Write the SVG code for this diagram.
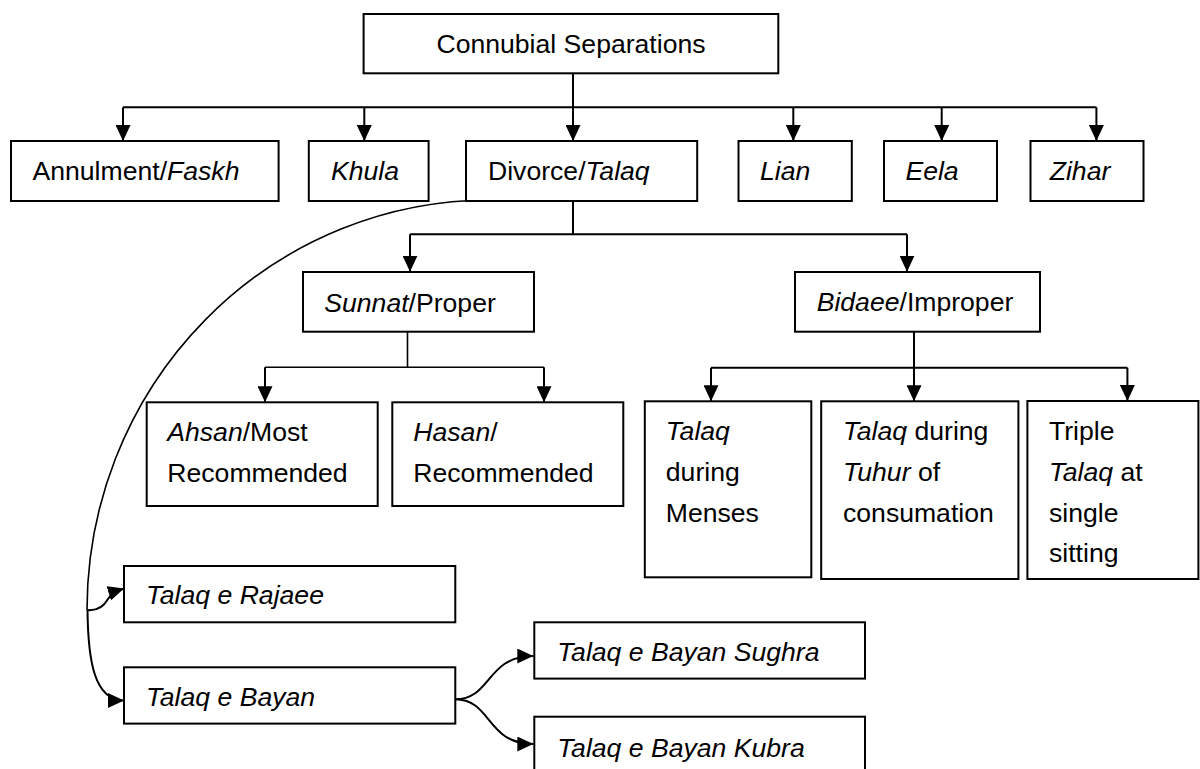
<svg xmlns="http://www.w3.org/2000/svg" width="1200" height="769" viewBox="0 0 1200 769">
<style>
.box{fill:#fff;stroke:#000;stroke-width:2}
.t{font-family:"Liberation Sans",Arial,sans-serif;font-size:26.6px;fill:#000}
.i{font-style:italic}
.c{fill:none;stroke:#000;stroke-width:2}
.thin{stroke-width:1.6}
</style>
<defs>
<marker id="ah" markerUnits="userSpaceOnUse" markerWidth="17" markerHeight="15" refX="16" refY="7.5" orient="auto" viewBox="0 0 17 15">
<path d="M0,0 L16,7.5 L0,15 z" fill="#000"/>
</marker>
</defs>
<rect width="1200" height="769" fill="#fff"/>

<g id="connectors">
<path class="c" d="M123,107.3 H1096.4"/>
<path class="c" d="M123,107.3 V141" marker-end="url(#ah)"/>
<path class="c" d="M364.3,107.3 V141" marker-end="url(#ah)"/>
<path class="c" d="M573,73.3 V141" marker-end="url(#ah)"/>
<path class="c" d="M793.3,107.3 V141" marker-end="url(#ah)"/>
<path class="c" d="M941.7,107.3 V141" marker-end="url(#ah)"/>
<path class="c" d="M1096.4,107.3 V141" marker-end="url(#ah)"/>

<path class="c" d="M573,201 V234.3 M410,234.3 H907"/>
<path class="c" d="M410,234.3 V271.7" marker-end="url(#ah)"/>
<path class="c" d="M907,234.3 V271.7" marker-end="url(#ah)"/>

<path class="c thin" d="M407.5,331.7 V367.3 M265,367.3 H544"/>
<path class="c" d="M265,367.3 V402.3" marker-end="url(#ah)"/>
<path class="c" d="M544,367.3 V402.3" marker-end="url(#ah)"/>

<path class="c" d="M711,367.7 H1127.4"/>
<path class="c" d="M914,331.7 V401.3" marker-end="url(#ah)"/>
<path class="c" d="M711,367.7 V401.3" marker-end="url(#ah)"/>
<path class="c" d="M1127.4,367.7 V401" marker-end="url(#ah)"/>

<path class="c thin" d="M490,200 A403 410 0 0 0 87,610"/>
<path class="c" d="M87.5,610 C97,611 104,606 108,599 C111,594 116,591 124,588.5" marker-end="url(#ah)"/>
<path class="c" d="M87.5,610 C88,660 94,700.5 124,700.5" marker-end="url(#ah)"/>

<path class="c" d="M455,699.3 C492,699.3 486,656 533.3,656" marker-end="url(#ah)"/>
<path class="c" d="M455,699.3 C492,699.3 486,744 533.3,744" marker-end="url(#ah)"/>
</g>

<g id="connubial">
<rect class="box" x="363.6" y="14" width="414.7" height="59.3"/>
<text class="t" x="571" y="53.3" text-anchor="middle">Connubial Separations</text>
</g>
<g id="annulment">
<rect class="box" x="11" y="141" width="267.6" height="60"/>
<text class="t" x="32.5" y="180">Annulment/<tspan class="i">Faskh</tspan></text>
</g>
<g id="khula">
<rect class="box" x="308.8" y="141" width="119.8" height="60"/>
<text class="t i" x="331" y="180">Khula</text>
</g>
<g id="divorce">
<rect class="box" x="466" y="141" width="231.2" height="60"/>
<text class="t" x="488" y="180">Divorce/<tspan class="i">Talaq</tspan></text>
</g>
<g id="lian">
<rect class="box" x="738.5" y="141" width="113.3" height="60"/>
<text class="t i" x="760" y="180">Lian</text>
</g>
<g id="eela">
<rect class="box" x="884" y="141" width="113" height="60"/>
<text class="t i" x="905.4" y="180">Eela</text>
</g>
<g id="zihar">
<rect class="box" x="1030.5" y="141" width="113" height="60"/>
<text class="t i" x="1049.7" y="180">Zihar</text>
</g>

<g id="sunnat">
<rect class="box" x="303" y="272" width="231" height="59.7"/>
<text class="t" x="324.3" y="311.7"><tspan class="i">Sunnat</tspan>/Proper</text>
</g>
<g id="bidaee">
<rect class="box" x="795" y="272" width="245" height="59.7"/>
<text class="t" x="816.7" y="311"><tspan class="i">Bidaee</tspan>/Improper</text>
</g>

<g id="ahsan">
<rect class="box" x="146.7" y="402.3" width="231" height="103.7"/>
<text class="t" x="167.3" y="441"><tspan class="i">Ahsan</tspan>/Most</text>
<text class="t" x="167.3" y="481.7">Recommended</text>
</g>
<g id="hasan">
<rect class="box" x="392.3" y="402.3" width="231" height="103.7"/>
<text class="t" x="413.3" y="441"><tspan class="i">Hasan</tspan>/</text>
<text class="t" x="413.3" y="481.7">Recommended</text>
</g>

<g id="menses">
<rect class="box" x="644.8" y="401.3" width="166.5" height="176"/>
<text class="t i" x="665.8" y="440">Talaq</text>
<text class="t" x="665.8" y="481">during</text>
<text class="t" x="665.8" y="521.7">Menses</text>
</g>
<g id="tuhur">
<rect class="box" x="821.2" y="401.3" width="197.2" height="177.7"/>
<text class="t" x="843" y="440"><tspan class="i">Talaq</tspan> during</text>
<text class="t" x="843" y="481"><tspan class="i">Tuhur</tspan> of</text>
<text class="t" x="843" y="521.7">consumation</text>
</g>
<g id="triple">
<rect class="box" x="1027.4" y="401" width="171" height="178"/>
<text class="t" x="1049" y="440">Triple</text>
<text class="t" x="1049" y="481"><tspan class="i">Talaq</tspan> at</text>
<text class="t" x="1049" y="521.7">single</text>
<text class="t" x="1049" y="562">sitting</text>
</g>

<g id="rajaee">
<rect class="box" x="124" y="566" width="331.3" height="56.3"/>
<text class="t i" x="146" y="604.3">Talaq e Rajaee</text>
</g>
<g id="bayan">
<rect class="box" x="124" y="667.3" width="331.3" height="56.3"/>
<text class="t i" x="146" y="705.7">Talaq e Bayan</text>
</g>
<g id="sughra">
<rect class="box" x="534.3" y="622.3" width="330.7" height="56.3"/>
<text class="t i" x="557.3" y="661">Talaq e Bayan Sughra</text>
</g>
<g id="kubra">
<rect class="box" x="534.3" y="716.7" width="330.7" height="60"/>
<text class="t i" x="557.3" y="756.7">Talaq e Bayan Kubra</text>
</g>
</svg>
